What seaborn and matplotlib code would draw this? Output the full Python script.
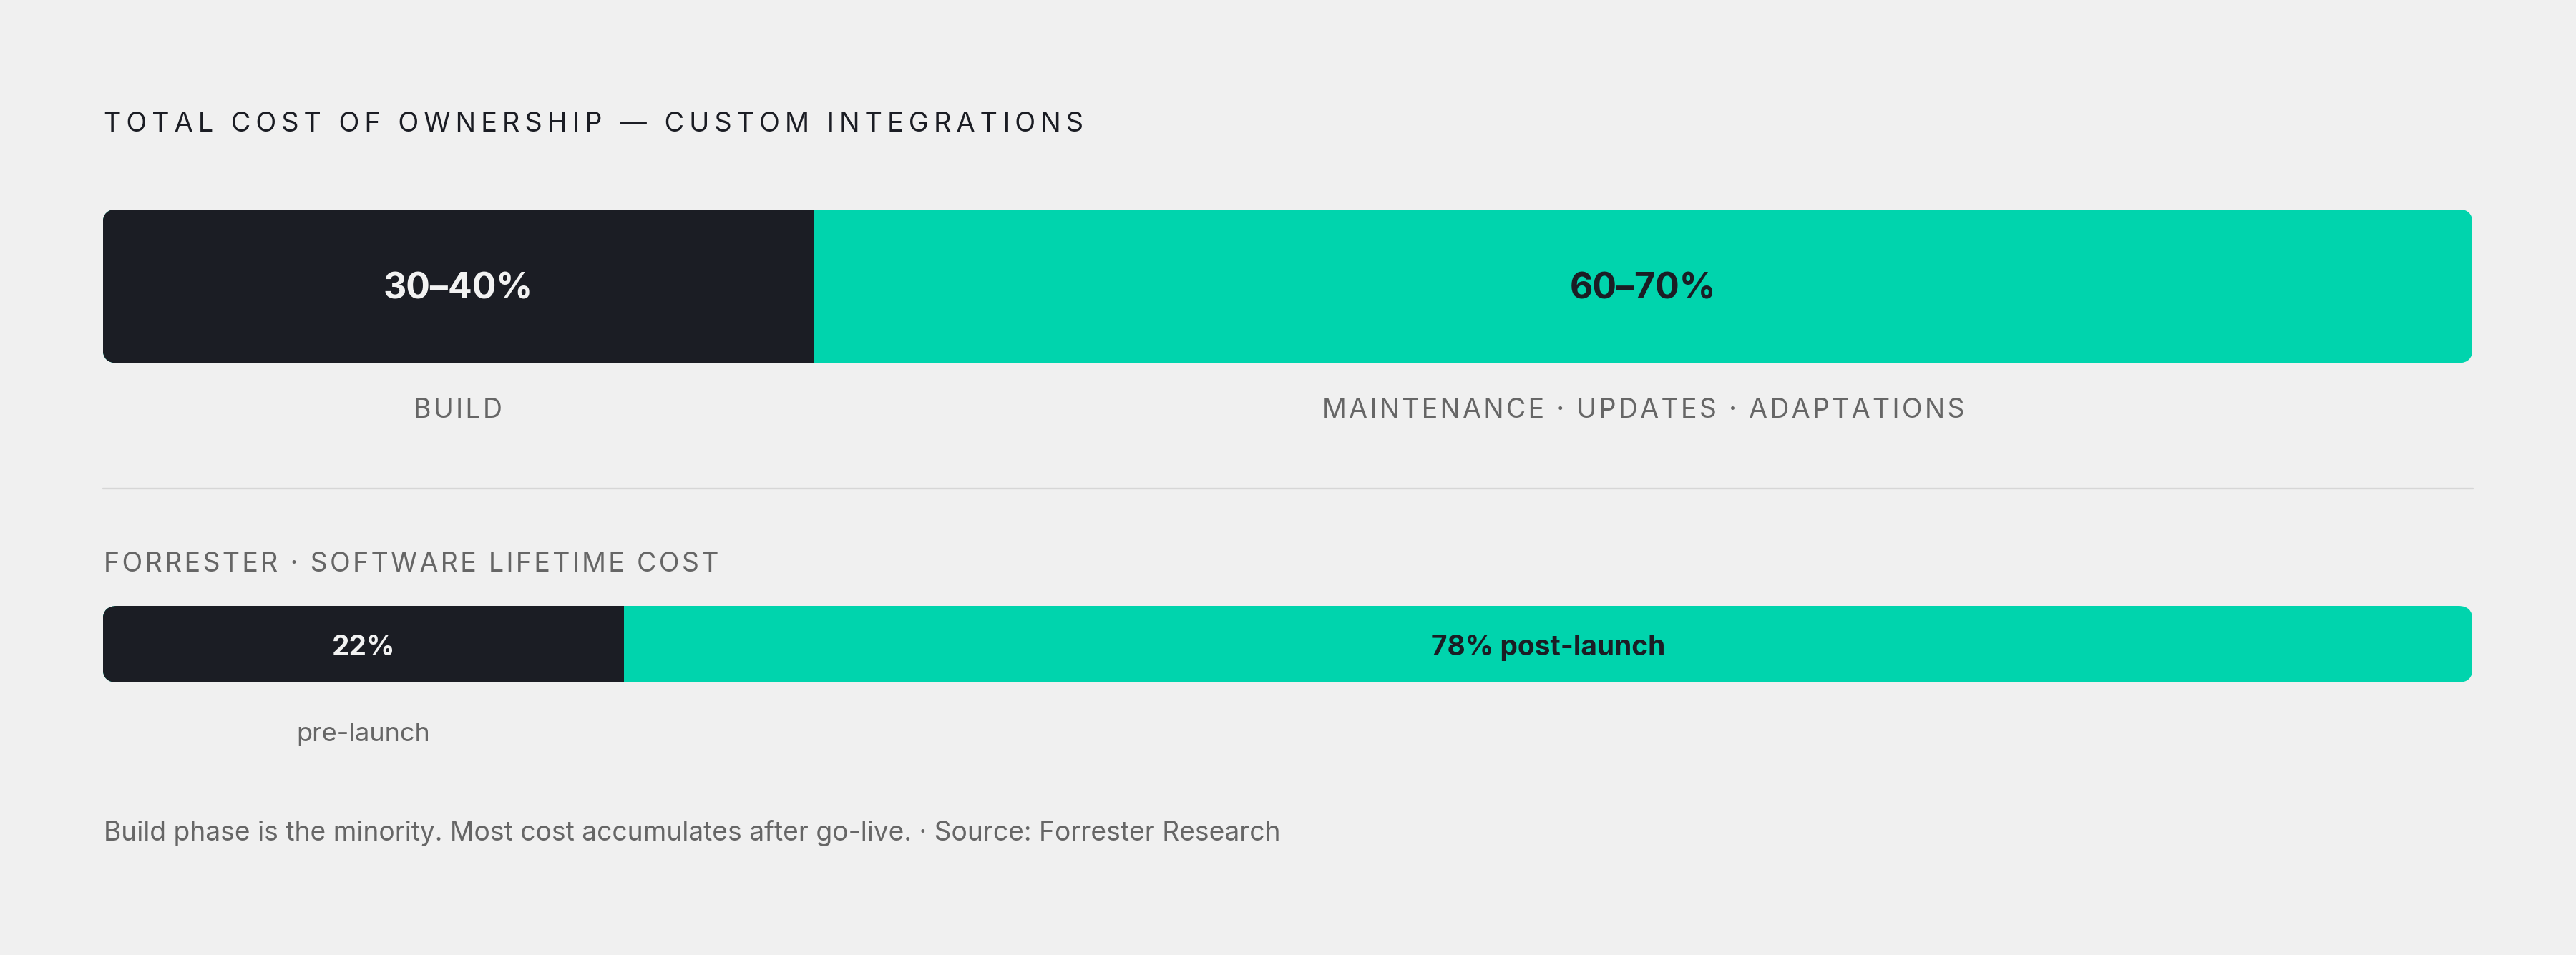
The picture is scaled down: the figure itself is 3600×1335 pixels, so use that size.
import pandas as pd
import matplotlib
matplotlib.use("Agg")
import matplotlib.pyplot as plt
import matplotlib.transforms as mtransforms
from matplotlib.patches import FancyBboxPatch
import seaborn as sns

# Data
title = "TOTAL COST OF OWNERSHIP — CUSTOM INTEGRATIONS"
tco_segments = ["BUILD", "MAINTENANCE · UPDATES · ADAPTATIONS"]
tco_share = [30, 70]
tco_labels = ["30–40%", "60–70%"]

forrester_title = "FORRESTER · SOFTWARE LIFETIME COST"
forrester_segments = ["pre-launch", "post-launch"]
forrester_share = [22, 78]
forrester_labels = ["22%", "78% post-launch"]
forrester_sub = ["pre-launch", ""]

footer = "Build phase is the minority. Most cost accumulates after go-live. · Source: Forrester Research"

BG = "#f0f0f0"
DARK = "#1b1d24"
GREEN = "#00d4ad"
GREY = "#666666"
SEG_COLORS = [DARK, GREEN]
LABEL_COLORS = ["#f2f2f2", DARK]

W, H = 3600, 1335
DPI = 100
FONT = ["Inter", "DejaVu Sans"]


def track(s, n=1):
    # crude letter spacing with hair spaces
    return ("\u200a" * n).join(s)


def fx(x):
    return x / W


def fy(y):
    return 1 - y / H


def bar_axes(fig, x0, y0, x1, y1):
    return fig.add_axes([fx(x0), fy(y1), (x1 - x0) / W, (y1 - y0) / H])


def stacked_bar(ax, shares):
    df = pd.DataFrame({"share": shares, "color": SEG_COLORS})
    df["end"] = df["share"].cumsum()
    df["start"] = df["end"] - df["share"]
    # back to front so the first segment sits on top
    for i in reversed(range(len(df))):
        sns.barplot(x=[df["end"][i]], y=["bar"], orient="h", color=df["color"][i],
                    saturation=1, width=1, linewidth=0, ax=ax)
    ax.set_xlim(0, df["end"].iloc[-1])
    ax.set_ylim(0.5, -0.5)
    ax.axis("off")
    # round the outer ends
    bb = ax.get_window_extent()
    clip = FancyBboxPatch((bb.x0, bb.y0), bb.width, bb.height,
                          boxstyle="round,pad=0,rounding_size=20",
                          transform=mtransforms.IdentityTransform())
    for p in ax.patches:
        p.set_clip_path(clip)
    return (df["start"] + df["end"]) / 2


sns.set_theme(style="white")
plt.rcParams["font.family"] = FONT

fig = plt.figure(figsize=(W / DPI, H / DPI), dpi=DPI, facecolor=BG)

fig.text(fx(145), fy(184), track(title, 2), fontsize=27.25, color=DARK, va="baseline", ha="left")

# first bar
ax1 = bar_axes(fig, 143.5, 292.5, 3455.5, 507.5)
mids1 = stacked_bar(ax1, tco_share)
tr1 = mtransforms.blended_transform_factory(ax1.transData, fig.transFigure)
for m, lab, seg, c in zip(mids1, tco_labels, tco_segments, LABEL_COLORS):
    ax1.text(m, fy(417), lab, transform=tr1, ha="center", va="baseline",
             fontsize=36, fontweight="bold", color=c)
    ax1.text(m, fy(584), track(seg), transform=tr1, ha="center", va="baseline",
             fontsize=27, color=GREY)

# divider
fig.add_artist(plt.Line2D([fx(143.5), fx(3455.5)], [fy(683), fy(683)],
                          color="#d6d6d6", linewidth=1.7))

fig.text(fx(145), fy(799), track(forrester_title), fontsize=27, color=GREY,
         va="baseline", ha="left")

# second bar
ax2 = bar_axes(fig, 143.5, 847, 3455.5, 954)
mids2 = stacked_bar(ax2, forrester_share)
tr2 = mtransforms.blended_transform_factory(ax2.transData, fig.transFigure)
for m, lab, sub, c in zip(mids2, forrester_labels, forrester_sub, LABEL_COLORS):
    ax2.text(m, fy(915.5), lab, transform=tr2, ha="center", va="baseline",
             fontsize=28, fontweight="bold", color=c)
    if sub:
        ax2.text(m, fy(1036), sub, transform=tr2, ha="center", va="baseline",
                 fontsize=26, color=GREY)

fig.text(fx(145), fy(1175), footer, fontsize=26.8, color=GREY, va="baseline", ha="left")

fig.savefig("out.png", dpi=DPI, facecolor=BG)
